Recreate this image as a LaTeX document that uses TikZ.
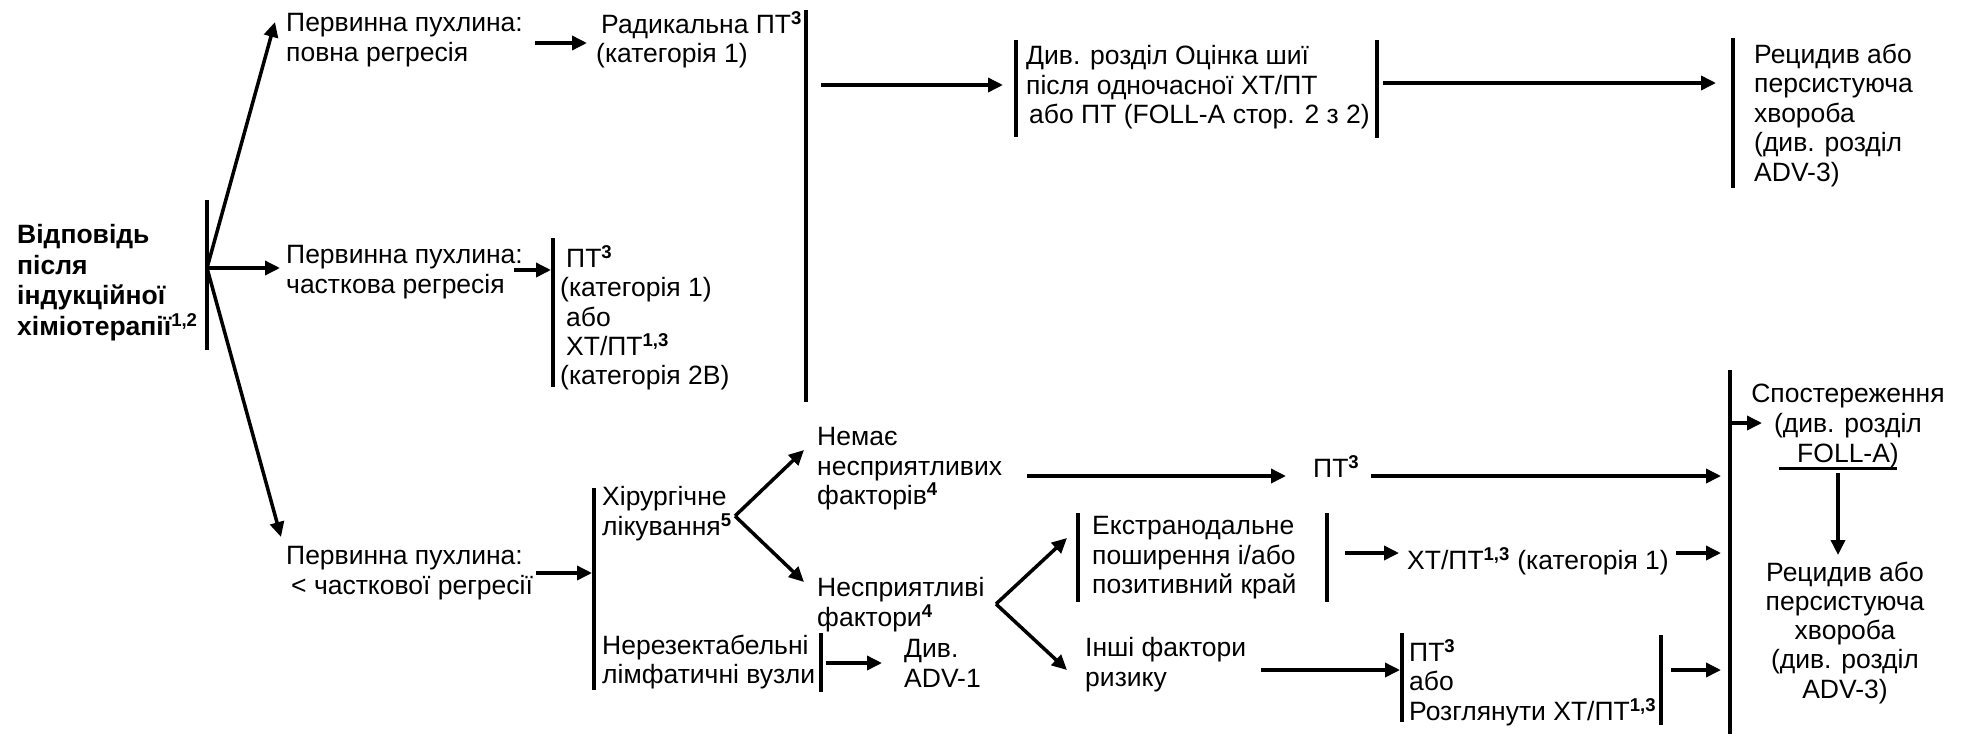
\documentclass[tikz,border=0pt]{standalone}
\usepackage{fontspec}
\setmainfont{Liberation Sans}
\usetikzlibrary{arrows.meta}
\newcommand{\spr}[1]{\textsuperscript{\bfseries #1}}
\newcommand{\firstline}{\rule{0pt}{20.5pt}}

\begin{document}
\begin{tikzpicture}[x=1pt,y=-1pt,
  txt/.style={anchor=north west, inner sep=0pt, align=left, yshift=20.5pt,
    font=\fontsize{26.5}{29.25}\selectfont, execute at begin node=\firstline},
  ctxt/.style={txt, anchor=north, align=center},
  bold/.style={txt, font=\fontsize{26.5}{30.5}\selectfont\bfseries},
  arr/.style={line width=3.5pt, -{Triangle[length=15pt,width=14pt]}},
  bar/.style={line width=4pt}]

\useasboundingbox (0,0) rectangle (1973,734);

% ---------- text blocks ----------
\node[bold] (resp) at (17,245) {Відповідь\\після\\індукційної\\хіміотерапії\spr{1,2}};

\node[txt] (full)   at (286,34)  {Первинна пухлина:\\повна регресія};
\node[txt] (radrt)  at (596,32)  {\hspace{5pt}Радикальна ПТ\spr{3}\\(категорія 1)};
\node[txt] (part)   at (286,266) {Первинна пухлина:\\часткова регресія};
\node[txt] (partrt) at (560,266) {\hspace{6pt}ПТ\spr{3}\\(категорія 1)\\\hspace{6pt}або\\\hspace{6pt}ХТ/ПТ\spr{1,3}\\(категорія 2В)};
\node[txt] (neck)   at (1026,66) {Див. розділ Оцінка шиї\\після одночасної ХТ/ПТ\\\hspace{3pt}або ПТ (FOLL-A стор. 2 з 2)};
\node[txt, font=\fontsize{26.5}{29.6}\selectfont] (recA) at (1754,64) {Рецидив або\\персистуюча\\хвороба\\(див. розділ\\ADV-3)};

\node[txt] (less)   at (286,567) {Первинна пухлина:\\\hspace{5pt}< часткової регресії};
\node[txt] (surg)   at (602,507) {Хірургічне\\лікування\spr{5}};
\node[txt] (unres)  at (602,655) {Нерезектабельні\\лімфатичні вузли};
\node[txt] (advone) at (904,660) {Див.\\ADV-1};
\node[txt] (nofac)  at (817,448) {Немає\\несприятливих\\факторів\spr{4}};
\node[txt] (advf)   at (817,598) {Несприятливі\\фактори\spr{4}};
\node[txt] (rtonly) at (1313,476) {ПТ\spr{3}};
\node[txt] (extra)  at (1092,537) {Екстранодальне\\поширення і/або\\позитивний край};
\node[txt] (crt)    at (1407,568) {ХТ/ПТ\spr{1,3} (категорія 1)};
\node[txt] (other)  at (1085,658) {Інші фактори\\ризику};
\node[txt] (opt)    at (1409,660) {ПТ\spr{3}\\або\\Розглянути ХТ/ПТ\spr{1,3}};
\node[ctxt, font=\fontsize{26.5}{30}\selectfont] (obs) at (1848,404) {Спостереження\\(див. розділ\\FOLL-A)};
\node[ctxt] (recB)  at (1845,582) {Рецидив або\\персистуюча\\хвороба\\(див. розділ\\ADV-3)};

% ---------- bracket bars ----------
\draw[bar] (207,200) coordinate (b1t) -- (207,350) coordinate (b1b);
\draw[bar] (553,238) coordinate (b2t) -- (553,387) coordinate (b2b);
\draw[bar] (806,10)  coordinate (b3t) -- (806,402) coordinate (b3b);
\draw[bar] (1016,40) coordinate (b4t) -- (1016,137) coordinate (b4b);
\draw[bar] (1377,40) coordinate (b5t) -- (1377,138) coordinate (b5b);
\draw[bar] (1733,38) coordinate (b6t) -- (1733,188) coordinate (b6b);
\draw[bar] (594,488) coordinate (b7t) -- (594,690) coordinate (b7b);
\draw[bar] (821,633) coordinate (b8t) -- (821,692) coordinate (b8b);
\draw[bar] (1730,370) coordinate (b9t) -- (1730,734) coordinate (b9b);
\draw[bar] (1078,513) coordinate (b10t) -- (1078,602) coordinate (b10b);
\draw[bar] (1327,513) coordinate (b11t) -- (1327,602) coordinate (b11b);
\draw[bar] (1402,633) coordinate (b12t) -- (1402,722) coordinate (b12b);
\draw[bar] (1661,635) coordinate (b13t) -- (1661,725) coordinate (b13b);

% underline below FOLL-A)
\draw[line width=3pt] (1779,468) coordinate (ulA) -- (1897,468) coordinate (ulB);

% ---------- connector end points ----------
\coordinate (fork) at (207,268);
\coordinate (tipFull) at (275,22);
\coordinate (tipPart) at (280,268);
\coordinate (tipLess) at (281,537);
\coordinate (chev1) at (735,516);
\coordinate (chev2) at (996,604);

% ---------- connectors ----------
\draw[arr] (fork) -- (tipFull);
\draw[arr] (fork) -- (tipPart);
\draw[arr] (fork) -- (tipLess);

\draw[arr] (535,43) coordinate (a1s) -- (587,43) coordinate (a1e);
\draw[arr] (514,270) coordinate (a2s) -- (551,270) coordinate (a2e);
\draw[arr] (821,85) coordinate (a3s) -- (1003,85) coordinate (a3e);
\draw[arr] (1383,83) coordinate (a4s) -- (1716,83) coordinate (a4e);

\draw[arr] (536,573) coordinate (a5s) -- (592,573) coordinate (a5e);
\draw[arr] (826,663) coordinate (a6s) -- (882,663) coordinate (a6e);
\draw[arr] (chev1) -- (804,450) coordinate (a7e);
\draw[arr] (chev1) -- (804,582) coordinate (a8e);
\draw[arr] (1027,476) coordinate (a9s) -- (1286,476) coordinate (a9e);
\draw[arr] (1371,476) coordinate (a10s) -- (1721,476) coordinate (a10e);
\draw[arr] (chev2) -- (1067,538) coordinate (a11e);
\draw[arr] (chev2) -- (1067,670) coordinate (a12e);
\draw[arr] (1345,553) coordinate (a13s) -- (1399,553) coordinate (a13e);
\draw[arr] (1676,553) coordinate (a14s) -- (1721,553) coordinate (a14e);
\draw[arr] (1261,670) coordinate (a15s) -- (1400,670) coordinate (a15e);
\draw[arr] (1671,670) coordinate (a16s) -- (1721,670) coordinate (a16e);
\draw[arr] (1732,423) coordinate (a17s) -- (1762,423) coordinate (a17e);
\draw[arr] (1838,473) coordinate (a18s) -- (1838,555) coordinate (a18e);

\end{tikzpicture}
\end{document}
